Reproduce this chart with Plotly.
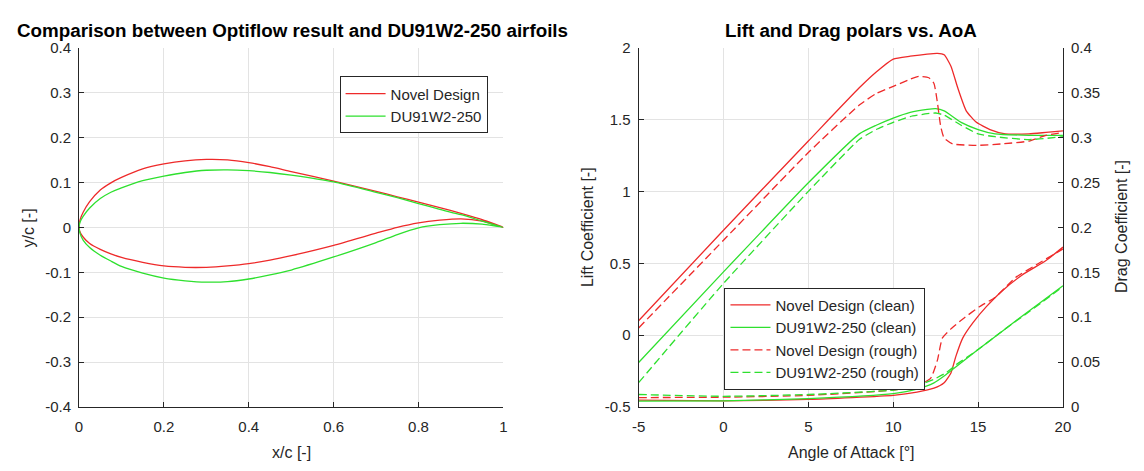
import plotly.graph_objects as go

# ---------------- Airfoil geometry (x/c, y/c) ----------------
xc_stations = [0.0, 0.0025, 0.01, 0.025, 0.05, 0.075, 0.1, 0.15, 0.2, 0.25, 0.3, 0.35, 0.4,
               0.45, 0.5, 0.6, 0.7, 0.75, 0.8, 0.85, 0.9, 0.95, 1.0]

novel_upper = [0.0, 0.017, 0.034, 0.057, 0.083, 0.099, 0.111, 0.130, 0.141, 0.148, 0.151, 0.150,
               0.144, 0.135, 0.124, 0.103, 0.080, 0.068, 0.056, 0.044, 0.031, 0.017, 0.0]
novel_lower = [0.0, -0.011, -0.022, -0.036, -0.049, -0.059, -0.067, -0.078, -0.086, -0.089, -0.089,
               -0.086, -0.081, -0.073, -0.063, -0.040, -0.013, 0.000, 0.010, 0.016, 0.019, 0.014, 0.0]
du_upper = [0.0, 0.012, 0.025, 0.043, 0.064, 0.078, 0.088, 0.104, 0.114, 0.122, 0.127, 0.128,
            0.126, 0.122, 0.116, 0.101, 0.078, 0.066, 0.053, 0.040, 0.028, 0.014, 0.0]
du_lower = [0.0, -0.014, -0.029, -0.045, -0.062, -0.075, -0.087, -0.102, -0.113, -0.119, -0.122,
            -0.121, -0.115, -0.106, -0.095, -0.066, -0.034, -0.016, -0.001, 0.006, 0.009, 0.007, 0.0]

# ---------------- Polars ----------------
aoa_nc = [-5, 0, 5, 8, 9, 10, 11, 12, 12.6, 13, 13.4, 13.8, 14.3, 14.9, 15.7, 16.6, 18, 19, 20]
cl_nc = [0.10, 0.73, 1.35, 1.72, 1.83, 1.92, 1.94, 1.955, 1.96, 1.95, 1.87, 1.72, 1.56, 1.48,
         1.43, 1.40, 1.40, 1.41, 1.42]
aoa_nr = [-5, 0, 5, 8, 9, 10, 11, 11.5, 12.1, 12.4, 12.6, 12.8, 13.0, 13.5, 14.9, 16.4, 18, 19, 20]
cl_nr = [0.05, 0.66, 1.27, 1.60, 1.68, 1.73, 1.78, 1.80, 1.79, 1.75, 1.62, 1.45, 1.37, 1.33,
         1.32, 1.33, 1.35, 1.39, 1.41]
aoa_dc = [-5, 0, 5, 8, 9, 10, 11, 12, 12.5, 13, 14, 15, 16, 18, 20]
cl_dc = [-0.19, 0.44, 1.06, 1.40, 1.46, 1.51, 1.55, 1.57, 1.575, 1.56, 1.48, 1.43, 1.40, 1.39, 1.39]
aoa_dr = [-5, 0, 5, 8, 9, 10, 11, 12, 12.5, 13, 14, 15, 16, 18, 20]
cl_dr = [-0.33, 0.36, 1.00, 1.36, 1.43, 1.48, 1.52, 1.54, 1.545, 1.53, 1.46, 1.40, 1.38, 1.36, 1.38]

aoa_cd_nc = [-5, 0, 5, 10, 11.4, 12.4, 13, 13.4, 13.7, 14.1, 14.7, 15.5, 16.4, 17.6, 19, 20]
cd_nc = [0.0078, 0.007, 0.0085, 0.013, 0.0166, 0.021, 0.027, 0.038, 0.057, 0.077, 0.094,
         0.112, 0.129, 0.147, 0.163, 0.178]
aoa_cd_nr = [-5, 0, 5, 10, 11.4, 12.2, 12.6, 12.9, 13.4, 14.1, 15.1, 16, 17.2, 18.4, 20]
cd_nr = [0.0106, 0.011, 0.013, 0.019, 0.024, 0.032, 0.052, 0.077, 0.087, 0.098, 0.112, 0.122,
         0.144, 0.158, 0.176]
aoa_cd_dc = [-5, 0, 5, 10, 11.4, 12.4, 13.1, 13.7, 15, 16.6, 18, 20]
cd_dc = [0.0067, 0.007, 0.0095, 0.015, 0.020, 0.027, 0.036, 0.045, 0.064, 0.087, 0.107, 0.135]
aoa_cd_dr = [-5, 0, 5, 10, 11.4, 12.4, 13.1, 13.7, 15, 16.6, 18, 20]
cd_dr = [0.014, 0.012, 0.014, 0.019, 0.024, 0.031, 0.038, 0.047, 0.064, 0.087, 0.106, 0.134]

# ---------------- Ticks ----------------
xc_ticks = [0, 0.2, 0.4, 0.6, 0.8, 1]
xc_ticktext = ["0", "0.2", "0.4", "0.6", "0.8", "1"]
yc_ticks = [-0.4, -0.3, -0.2, -0.1, 0, 0.1, 0.2, 0.3, 0.4]
yc_ticktext = ["-0.4", "-0.3", "-0.2", "-0.1", "0", "0.1", "0.2", "0.3", "0.4"]
aoa_ticks = [-5, 0, 5, 10, 15, 20]
aoa_ticktext = ["-5", "0", "5", "10", "15", "20"]
cl_ticks = [-0.5, 0, 0.5, 1, 1.5, 2]
cl_ticktext = ["-0.5", "0", "0.5", "1", "1.5", "2"]
cd_ticks = [0, 0.05, 0.1, 0.15, 0.2, 0.25, 0.3, 0.35, 0.4]
cd_ticktext = ["0", "0.05", "0.1", "0.15", "0.2", "0.25", "0.3", "0.35", "0.4"]

RED = "#ee2a2a"
GREEN = "#2ee02e"
AX = "#262626"
GRID = "#e3e3e3"
FONT = "Liberation Sans, Arial, Helvetica, sans-serif"
DASH = "8px,4px"

W, H = 1144, 471


def px(v):
    return v / W


def py(v):
    return 1 - v / H


fig = go.Figure()

# Airfoils: trailing edge -> upper -> leading edge -> lower -> trailing edge
loop_x = xc_stations[::-1] + xc_stations[1:]
fig.add_trace(go.Scatter(
    x=loop_x, y=novel_upper[::-1] + novel_lower[1:],
    mode="lines", line=dict(color=RED, width=1.3, shape="spline", smoothing=0.6),
    name="Novel Design", legend="legend", xaxis="x", yaxis="y"))
fig.add_trace(go.Scatter(
    x=loop_x, y=du_upper[::-1] + du_lower[1:],
    mode="lines", line=dict(color=GREEN, width=1.3, shape="spline", smoothing=0.6),
    name="DU91W2-250", legend="legend", xaxis="x", yaxis="y"))

# Lift polars
lift = [
    (aoa_nc, cl_nc, RED, "solid", "Novel Design (clean)"),
    (aoa_dc, cl_dc, GREEN, "solid", "DU91W2-250 (clean)"),
    (aoa_nr, cl_nr, RED, DASH, "Novel Design (rough)"),
    (aoa_dr, cl_dr, GREEN, DASH, "DU91W2-250 (rough)"),
]
for xs, ys, col, dash, nm in lift:
    fig.add_trace(go.Scatter(x=xs, y=ys, mode="lines",
                             line=dict(color=col, width=1.3, dash=dash, shape="spline", smoothing=0.5),
                             name=nm, legend="legend2", xaxis="x2", yaxis="y2"))

drag = [
    (aoa_cd_nc, cd_nc, RED, "solid"),
    (aoa_cd_dc, cd_dc, GREEN, "solid"),
    (aoa_cd_nr, cd_nr, RED, DASH),
    (aoa_cd_dr, cd_dr, GREEN, DASH),
]
for xs, ys, col, dash in drag:
    fig.add_trace(go.Scatter(x=xs, y=ys, mode="lines",
                             line=dict(color=col, width=1.3, dash=dash, shape="spline", smoothing=0.5),
                             showlegend=False, xaxis="x2", yaxis="y3"))

axis_common = dict(showgrid=True, gridcolor=GRID, gridwidth=1, zeroline=False,
                   showline=True, linecolor=AX, linewidth=1, ticks="inside", ticklen=5,
                   tickcolor=AX, tickfont=dict(family=FONT, size=15, color=AX))

TOP, BOT = 40, 413
fig.update_layout(
    width=W, height=H, autosize=False,
    margin=dict(l=0, r=0, t=0, b=0, pad=0),
    paper_bgcolor="white", plot_bgcolor="white",
    font=dict(family=FONT, size=15, color=AX),
    xaxis=dict(domain=[px(73), px(503)], range=[0, 1], tickvals=xc_ticks, ticktext=xc_ticktext,
               anchor="y", ticklabelstandoff=6, **axis_common),
    yaxis=dict(domain=[py(BOT), py(TOP)], range=[-0.4, 0.4], tickvals=yc_ticks, ticktext=yc_ticktext,
               anchor="x", ticklabelstandoff=4, **axis_common),
    xaxis2=dict(domain=[px(640), px(1070)], range=[-5, 20], tickvals=aoa_ticks, ticktext=aoa_ticktext,
                anchor="y2", ticklabelstandoff=6, **axis_common),
    yaxis2=dict(domain=[py(BOT), py(TOP)], range=[-0.5, 2], tickvals=cl_ticks, ticktext=cl_ticktext,
                anchor="x2", ticklabelstandoff=4, **axis_common),
    yaxis3=dict(range=[0, 0.4], tickvals=cd_ticks, ticktext=cd_ticktext, overlaying="y2",
                anchor="x2", side="right", showgrid=False, zeroline=False, showline=True,
                linecolor=AX, linewidth=1, ticks="inside", ticklen=5, tickcolor=AX,
                ticklabelstandoff=4, tickfont=dict(family=FONT, size=15, color=AX)),
    legend=dict(x=px(337), y=py(70), xanchor="left", yanchor="top",
                bgcolor="white", bordercolor=AX, borderwidth=1,
                font=dict(family=FONT, size=15, color=AX), tracegroupgap=0,
                itemwidth=40),
    legend2=dict(x=px(727), y=py(289), xanchor="left", yanchor="top",
                 bgcolor="white", bordercolor=AX, borderwidth=1,
                 font=dict(family=FONT, size=15, color=AX), tracegroupgap=0,
                 itemwidth=40),
    showlegend=True,
)

annots = [
    dict(text="<b>Comparison between Optiflow result and DU91W2-250 airfoils</b>", x=px(289), y=py(22),
         size=18.8, angle=0),
    dict(text="<b>Lift and Drag polars vs. AoA</b>", x=px(855), y=py(22), size=18.8, angle=0),
    dict(text="x/c [-]", x=px(288), y=py(460), size=16, angle=0),
    dict(text="y/c [-]", x=px(22), y=py(227), size=16, angle=-90),
    dict(text="Angle of Attack [°]", x=px(855), y=py(460), size=16, angle=0),
    dict(text="Lift Coefficient [-]", x=px(589), y=py(226), size=16, angle=-90),
    dict(text="Drag Coefficient [-]", x=px(1130), y=py(226), size=16, angle=-90),
]
for a in annots:
    fig.add_annotation(text=a["text"], x=a["x"], y=a["y"], xref="paper", yref="paper",
                       xanchor="center", yanchor="middle", showarrow=False, textangle=a["angle"],
                       font=dict(family=FONT, size=a["size"], color="black" if "<b>" in a["text"] else AX))

fig.write_html("out.html")
